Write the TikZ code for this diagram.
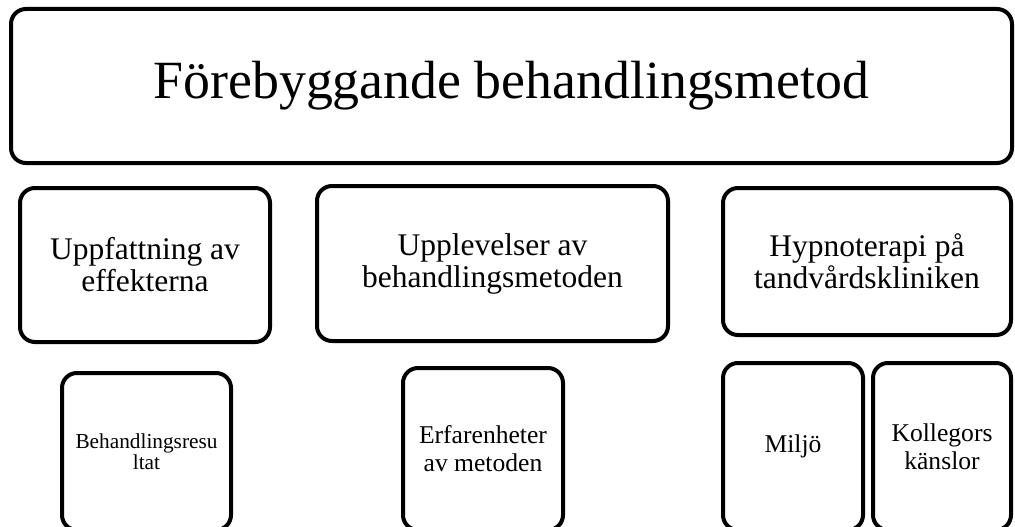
\documentclass[tikz,border=0pt]{standalone}
\usepackage{fontspec}
\setmainfont{Liberation Serif}

\tikzset{
    box/.style={draw, line width=4pt, rounded corners=15pt, rectangle, align=center, inner sep=0pt},
    bigfont/.style={font=\fontsize{53.8}{62}\selectfont},
    midfont/.style={font=\fontsize{31.5}{32}\selectfont},
    smallfont/.style={font=\fontsize{25.6}{28}\selectfont}
}

\begin{document}
\begin{tikzpicture}[x=1pt, y=-1pt]
    % Page frame, cut at the lower edge
    \clip (0,0) rectangle (1015,527);
    \useasboundingbox (0,0) rectangle (1015,527);

    % Heading box
    \node[box, bigfont, minimum width=1001pt, minimum height=154pt] (metod) at (511.5, 86) {Förebyggande behandlingsmetod};

    % Second row
    \node[box, midfont, minimum width=250pt, minimum height=154pt] (effekt) at (145, 265) {Uppfattning av\\effekterna};
    \node[box, midfont, minimum width=351pt, minimum height=155pt] (upplev) at (492.5, 263.5) {Upplevelser av\\behandlingsmetoden};
    \node[box, midfont, minimum width=288pt, minimum height=147pt] (hypno) at (867, 261.5) {Hypnoterapi på\\tandvårdskliniken};

    % Third row
    \node[box, font=\fontsize{21.3}{21}\selectfont, minimum width=169pt, minimum height=157pt] (resultat) at (146.5, 451.5) {Behandlingsresu\\ltat};
    \node[box, smallfont, minimum width=160pt, minimum height=162pt] (erfar) at (483, 449) {Erfarenheter\\av metoden};
    \node[box, smallfont, minimum width=140pt, minimum height=167pt] (miljo) at (793, 446.5) {Miljö};
    \node[box, smallfont, minimum width=138pt, minimum height=167pt] (kolleg) at (942, 446.5) {Kollegors\\känslor};
\end{tikzpicture}
\end{document}
